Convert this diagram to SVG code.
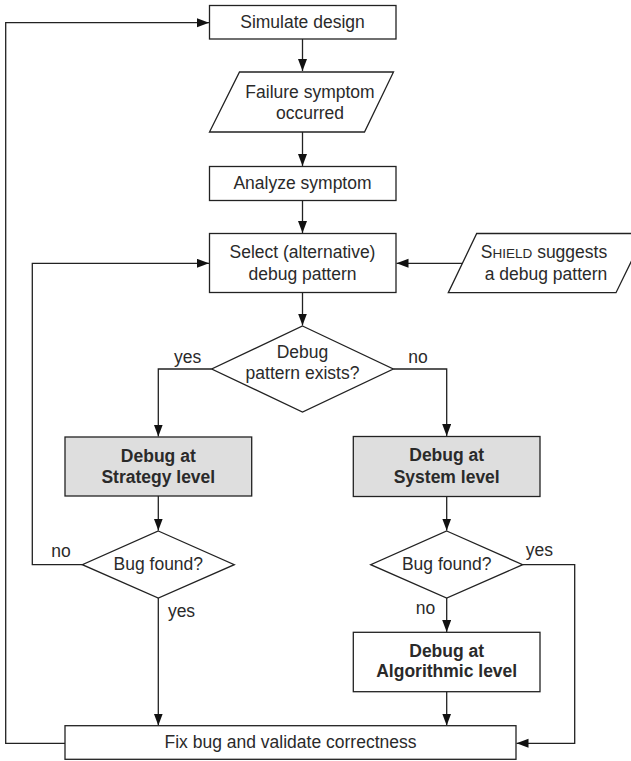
<svg xmlns="http://www.w3.org/2000/svg" width="631" height="761" viewBox="0 0 631 761">
<style>
.n{fill:#fff;stroke:#222;stroke-width:1.3}
.g{fill:#dedede;stroke:#222;stroke-width:1.3}
.c{fill:none;stroke:#222;stroke-width:1.3}
text{font-family:"Liberation Sans",Arial,sans-serif;font-size:17.5px;fill:#2a2a2a;text-anchor:middle}
.b{font-weight:bold}
</style>
<defs>
<marker id="ah" markerUnits="userSpaceOnUse" markerWidth="13" markerHeight="10" refX="12" refY="4.5" orient="auto">
<path d="M0,0 L12,4.5 L0,9 z" fill="#111"/>
</marker>
</defs>
<g id="connectors">
<path class="c" d="M302.5,39 V71" marker-end="url(#ah)"/>
<path class="c" d="M302.5,132 V166" marker-end="url(#ah)"/>
<path class="c" d="M302.5,200.5 V233" marker-end="url(#ah)"/>
<path class="c" d="M302.5,292.7 V325.5" marker-end="url(#ah)"/>
<path class="c" d="M462.5,263.3 H396.5" marker-end="url(#ah)"/>
<path class="c" d="M211.7,369 H158.3 V436.5" marker-end="url(#ah)"/>
<path class="c" d="M393.3,369 H446.7 V436" marker-end="url(#ah)"/>
<path class="c" d="M158.3,496 V530.5" marker-end="url(#ah)"/>
<path class="c" d="M446.7,496.5 V530.5" marker-end="url(#ah)"/>
<path class="c" d="M82.3,564.7 H32.3 V263.3 H209" marker-end="url(#ah)"/>
<path class="c" d="M158.3,598 V725.5" marker-end="url(#ah)"/>
<path class="c" d="M446.7,598 V632" marker-end="url(#ah)"/>
<path class="c" d="M446.7,691.7 V725.5" marker-end="url(#ah)"/>
<path class="c" d="M522.7,564.7 H574.7 V743.3 H516.5" marker-end="url(#ah)"/>
<path class="c" d="M65,743.3 H5.7 V22.7 H209" marker-end="url(#ah)"/>
<text x="187.7" y="363">yes</text>
<text x="418" y="363">no</text>
<text x="61" y="556.7">no</text>
<text x="181.5" y="616.7">yes</text>
<text x="539.3" y="555.7">yes</text>
<text x="425.5" y="613.5">no</text>
</g>
<g id="simulate">
<rect class="n" x="209.5" y="5.5" width="186.5" height="33.5"/>
<text x="302.5" y="27.5">Simulate design</text>
</g>
<g id="failure">
<polygon class="n" points="239.5,72 393.5,72 364.5,132 209.5,132"/>
<text x="310" y="97.5">Failure symptom</text>
<text x="310" y="118.5">occurred</text>
</g>
<g id="analyze">
<rect class="n" x="209.5" y="166.5" width="186.5" height="34"/>
<text x="302.5" y="188.5">Analyze symptom</text>
</g>
<g id="select">
<rect class="n" x="209.5" y="233.5" width="186.5" height="59"/>
<text x="302.5" y="258">Select (alternative)</text>
<text x="302.5" y="279.5">debug pattern</text>
</g>
<g id="shield">
<polygon class="n" points="476.7,233.5 645,233.5 616,292.7 448.3,292.7"/>
<text x="544" y="257.5">S<tspan font-size="13.5px">HIELD</tspan> suggests</text>
<text x="546" y="280">a debug pattern</text>
</g>
<g id="exists">
<polygon class="n" points="302.5,326 393.3,369 302.5,412 211.7,369"/>
<text x="302.5" y="358">Debug</text>
<text x="302.5" y="379">pattern exists?</text>
</g>
<g id="strategy">
<rect class="g" x="65" y="437" width="186.7" height="59"/>
<text class="b" x="158.3" y="461.5">Debug at</text>
<text class="b" x="158.3" y="482.7">Strategy level</text>
</g>
<g id="system">
<rect class="g" x="353.3" y="436.5" width="186.7" height="60"/>
<text class="b" x="446.7" y="461">Debug at</text>
<text class="b" x="446.7" y="482.7">System level</text>
</g>
<g id="bugfound1">
<polygon class="n" points="158.3,531 234.3,564.7 158.3,598 82.3,564.7"/>
<text x="158.3" y="569.5">Bug found?</text>
</g>
<g id="bugfound2">
<polygon class="n" points="446.7,531 522.7,564.7 446.7,598 370.7,564.7"/>
<text x="446.7" y="569.5">Bug found?</text>
</g>
<g id="algorithmic">
<rect class="n" x="353.3" y="632.3" width="186.7" height="59.4"/>
<text class="b" x="446.7" y="656.7">Debug at</text>
<text class="b" x="446.7" y="677.3">Algorithmic level</text>
</g>
<g id="fix">
<rect class="n" x="65" y="725.7" width="451" height="33.6"/>
<text x="290.5" y="747.7">Fix bug and validate correctness</text>
</g>
</svg>
